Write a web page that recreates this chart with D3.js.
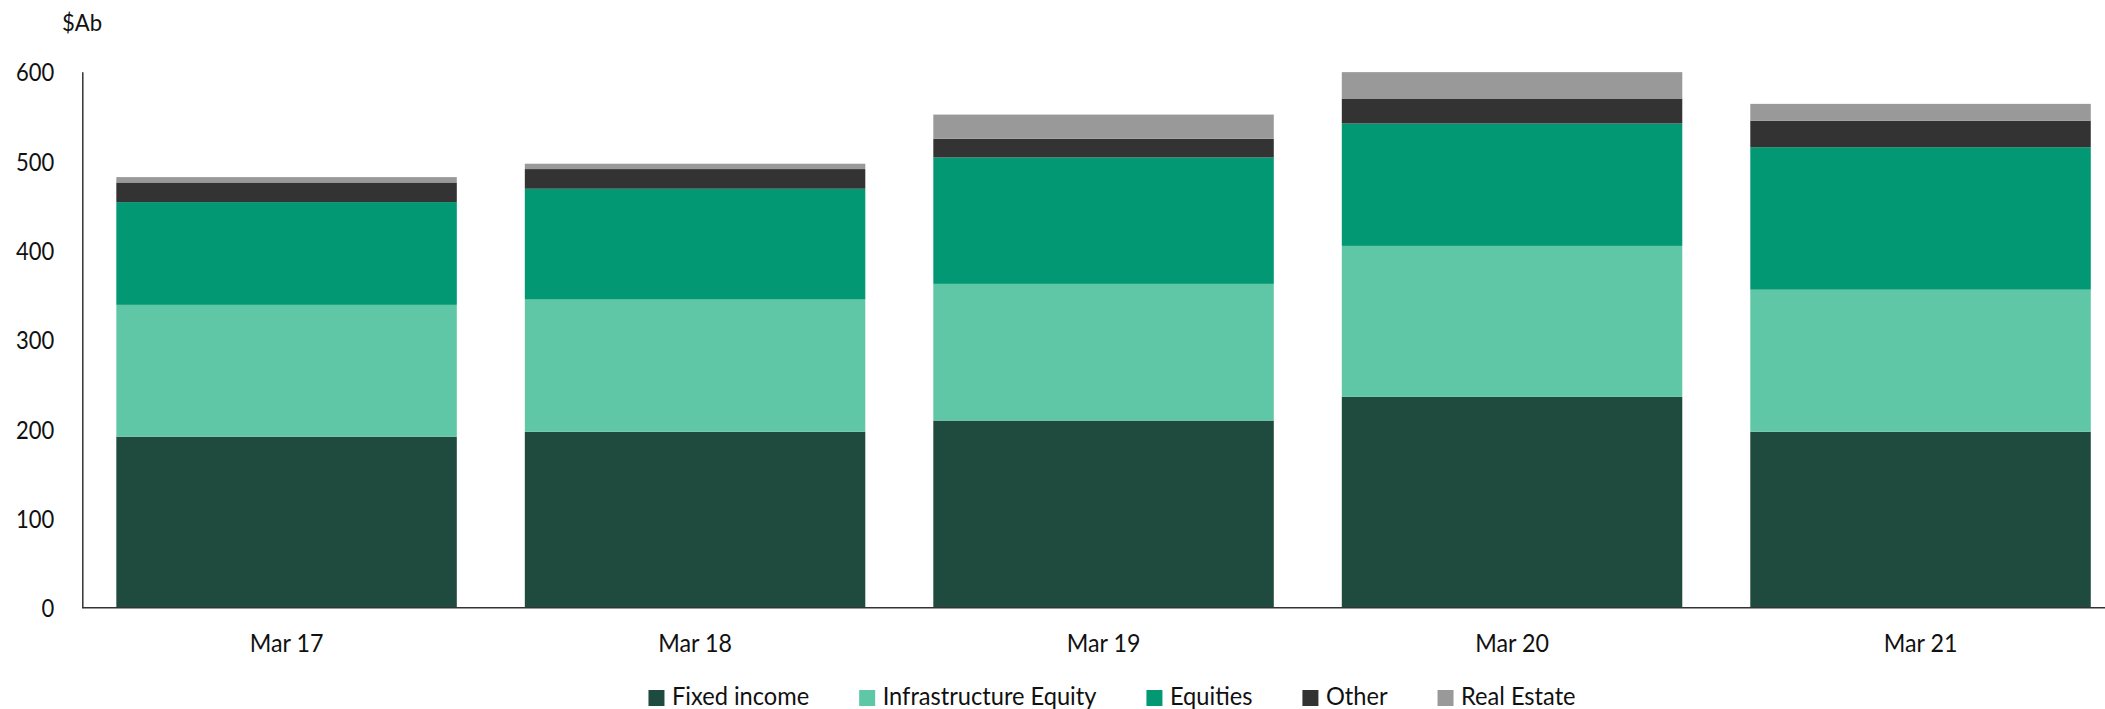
<!DOCTYPE html>
<html>
<head>
<meta charset="utf-8">
<script src="https://cdn.jsdelivr.net/npm/d3@7"></script>
<style>
  html, body { margin: 0; padding: 0; background: #fff; }
  svg { display: block; font-family: Lato, "Open Sans", sans-serif; }
</style>
</head>
<body>
<svg id="chart" width="2105" height="709"></svg>
<script>
// Funds under management by asset class, $A billions
const categories = ["Mar 17", "Mar 18", "Mar 19", "Mar 20", "Mar 21"];
const fixedIncome = [191.5, 197, 209.5, 236, 197];
const infrastructureEquity = [147.5, 148, 153, 169, 159];
const equities = [115, 124, 141.5, 137, 159.5];
const other = [22, 22, 21, 28, 29.5];
const realEstate = [6, 6, 27, 29.5, 19];
const seriesNames = ["Fixed income", "Infrastructure Equity", "Equities", "Other", "Real Estate"];
const yTicks = [0, 100, 200, 300, 400, 500, 600];
const unitLabel = "$Ab";

const colors = ["#1e4b3e", "#5fc7a6", "#019873", "#333333", "#999999"];
const seriesValues = [fixedIncome, infrastructureEquity, equities, other, realEstate];

const rows = categories.map((c, i) => {
  const r = { category: c };
  seriesNames.forEach((s, j) => { r[s] = seriesValues[j][i]; });
  return r;
});
const stacked = d3.stack().keys(seriesNames)(rows);

const svg = d3.select("#chart");
const plotLeft = 82.3, plotRight = 2124.8, plotTop = 71.7, plotBottom = 607.7;

const x = d3.scaleBand()
  .domain(categories)
  .range([plotLeft, plotRight])
  .paddingInner(0.1665)
  .paddingOuter(0.0833);

const y = d3.scaleLinear().domain([0, 600]).range([plotBottom, plotTop]);

// squeeze text horizontally to the narrow face used throughout
function condense(sel, k) {
  sel.each(function () {
    const w = this.getComputedTextLength();
    d3.select(this).attr("textLength", w * k).attr("lengthAdjust", "spacingAndGlyphs");
  });
}

// stacked bars
svg.append("g")
  .selectAll("g")
  .data(stacked)
  .join("g")
  .attr("fill", (d, i) => colors[i])
  .selectAll("rect")
  .data(d => d)
  .join("rect")
  .attr("x", d => x(d.data.category))
  .attr("width", x.bandwidth())
  .attr("y", d => y(d[1]))
  .attr("height", d => y(d[0]) - y(d[1]));

// y axis
const yAxis = svg.append("g")
  .attr("transform", `translate(${plotLeft},0)`)
  .call(d3.axisLeft(y).tickValues(yTicks).tickSize(0).tickPadding(28));
yAxis.select(".domain").attr("stroke", "#333").attr("stroke-width", 1.5);
yAxis.selectAll("text")
  .attr("font-size", 25)
  .attr("font-family", "Lato, sans-serif")
  .attr("fill", "#111")
  .attr("dy", "0.36em")
  .call(condense, 0.88);

// x axis
const xAxis = svg.append("g")
  .attr("transform", `translate(0,${plotBottom})`)
  .call(d3.axisBottom(x).tickSize(0).tickPadding(27));
xAxis.select(".domain").attr("stroke", "#333").attr("stroke-width", 1.5)
  .attr("d", `M${plotLeft},0H2105`);
xAxis.selectAll("text")
  .attr("font-size", 25)
  .attr("font-family", "Lato, sans-serif")
  .attr("fill", "#111")
  .call(condense, 0.93);

// unit label
svg.append("text")
  .attr("x", 62)
  .attr("y", 31)
  .attr("font-size", 24)
  .attr("fill", "#111")
  .text(unitLabel)
  .call(condense, 0.92);

// legend
const legend = svg.append("g");
const items = legend.selectAll("g")
  .data(seriesNames)
  .join("g");
items.append("rect")
  .attr("width", 16)
  .attr("height", 16)
  .attr("y", 690)
  .attr("fill", (d, i) => colors[i]);
items.append("text")
  .attr("x", 23.5)
  .attr("y", 705)
  .attr("font-size", 25)
  .attr("fill", "#111")
  .text(d => d)
  .call(condense, 0.945);

let cursor = 0;
const offsets = [];
items.each(function () {
  offsets.push(cursor);
  const t = d3.select(this).select("text").node();
  const w = +t.getAttribute("textLength");
  cursor += 23.5 + w + 50;
});
const total = cursor - 50;
const startX = 1112 - total / 2;
items.attr("transform", (d, i) => `translate(${startX + offsets[i]},0)`);
</script>
</body>
</html>
